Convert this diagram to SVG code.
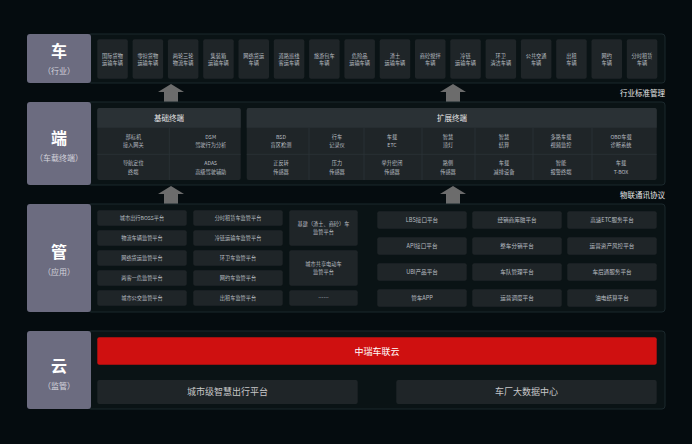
<svg xmlns="http://www.w3.org/2000/svg" width="692" height="444" viewBox="0 0 692 444">
<style>
text{font-family:"Noto Sans CJK SC","Noto Sans",sans-serif;text-anchor:middle}
.panel{fill:#0a1315;stroke:#1b282c;stroke-width:1}
.lab{fill:#6c6c80}
.big{fill:#ffffff;font-size:16px;font-weight:bold}
.sub{fill:#d4d4dc;font-size:8px}
.card{fill:#1f2528}
.ct{fill:#b9bec2;font-size:5.2px}
.mt{fill:#b9bec2;font-size:5.6px}
.hd{fill:#2a3135}
.ht{fill:#e6e6e6;font-size:7.5px}
.dv{stroke:#2b3337;stroke-width:0.8}
.arr{fill:#6c6c6c}
.side{fill:#e8e8e8;font-size:7.5px;text-anchor:end}
.bt{fill:#c8c8c8;font-size:9px}
</style>
<rect width="692" height="444" fill="#050c0f"/>

<g id="connectors">
  <polygon class="arr" points="171,84 184,92 178,92 178,108 164,108 164,92 158,92"/>
  <polygon class="arr" points="453,84 466,92 460,92 460,108 446,108 446,92 440,92"/>
  <polygon class="arr" points="171,186 184,194 178,194 178,204 164,204 164,194 158,194"/>
  <polygon class="arr" points="453,186 466,194 460,194 460,204 446,204 446,194 440,194"/>
  <polygon class="arr" points="212,365 226,365 226,372 233,372 219,380 205,372 212,372"/>
  <polygon class="arr" points="518,365 532,365 532,372 539,372 525,380 511,372 518,372"/>
</g>
<text class="side" x="665" y="96">行业标准管理</text>
<text class="side" x="665" y="198">物联通讯协议</text>

<!-- Row 1: 车 -->
<g id="row-che">
  <rect class="panel" x="88" y="34" width="577" height="49" rx="3"/>
  <rect class="lab" x="27" y="34" width="64" height="49" rx="3"/>
  <text class="big" x="59" y="57">车</text>
  <text class="sub" x="59" y="74">（行业）</text>
</g>
<g id="che-cards">
  <rect class="card" x="97.3" y="39.3" width="30.5" height="39.4" rx="2"/><text class="ct" x="112.5" y="57.5">国际货物</text><text class="ct" x="112.5" y="65">运输车辆</text>
  <rect class="card" x="132.6" y="39.3" width="30.5" height="39.4" rx="2"/><text class="ct" x="147.8" y="57.5">零担货物</text><text class="ct" x="147.8" y="65">运输车辆</text>
  <rect class="card" x="167.9" y="39.3" width="30.5" height="39.4" rx="2"/><text class="ct" x="183.1" y="57.5">两轮三轮</text><text class="ct" x="183.1" y="65">物流车辆</text>
  <rect class="card" x="203.2" y="39.3" width="30.5" height="39.4" rx="2"/><text class="ct" x="218.4" y="57.5">集装箱</text><text class="ct" x="218.4" y="65">运输车辆</text>
  <rect class="card" x="238.5" y="39.3" width="30.5" height="39.4" rx="2"/><text class="ct" x="253.7" y="57.5">网络货运</text><text class="ct" x="253.7" y="65">车辆</text>
  <rect class="card" x="273.8" y="39.3" width="30.5" height="39.4" rx="2"/><text class="ct" x="289" y="57.5">道路班线</text><text class="ct" x="289" y="65">客运车辆</text>
  <rect class="card" x="309.1" y="39.3" width="30.5" height="39.4" rx="2"/><text class="ct" x="324.3" y="57.5">旅游包车</text><text class="ct" x="324.3" y="65">车辆</text>
  <rect class="card" x="344.4" y="39.3" width="30.5" height="39.4" rx="2"/><text class="ct" x="359.6" y="57.5">危险品</text><text class="ct" x="359.6" y="65">运输车辆</text>
  <rect class="card" x="379.7" y="39.3" width="30.5" height="39.4" rx="2"/><text class="ct" x="394.9" y="57.5">渣土</text><text class="ct" x="394.9" y="65">运输车辆</text>
  <rect class="card" x="415" y="39.3" width="30.5" height="39.4" rx="2"/><text class="ct" x="430.2" y="57.5">商砼搅拌</text><text class="ct" x="430.2" y="65">车辆</text>
  <rect class="card" x="450.3" y="39.3" width="30.5" height="39.4" rx="2"/><text class="ct" x="465.5" y="57.5">冷链</text><text class="ct" x="465.5" y="65">运输车辆</text>
  <rect class="card" x="485.6" y="39.3" width="30.5" height="39.4" rx="2"/><text class="ct" x="500.8" y="57.5">环卫</text><text class="ct" x="500.8" y="65">清洁车辆</text>
  <rect class="card" x="520.9" y="39.3" width="30.5" height="39.4" rx="2"/><text class="ct" x="536.1" y="57.5">公共交通</text><text class="ct" x="536.1" y="65">车辆</text>
  <rect class="card" x="556.2" y="39.3" width="30.5" height="39.4" rx="2"/><text class="ct" x="571.4" y="57.5">出租</text><text class="ct" x="571.4" y="65">车辆</text>
  <rect class="card" x="591.5" y="39.3" width="30.5" height="39.4" rx="2"/><text class="ct" x="606.7" y="57.5">网约</text><text class="ct" x="606.7" y="65">车辆</text>
  <rect class="card" x="626.8" y="39.3" width="30.5" height="39.4" rx="2"/><text class="ct" x="642" y="57.5">分时租赁</text><text class="ct" x="642" y="65">车辆</text>
</g>

<!-- Row 2: 端 -->
<g id="row-duan">
  <rect class="panel" x="88" y="102" width="577" height="83" rx="3"/>
  <rect class="lab" x="27" y="102" width="64" height="83" rx="3"/>
  <text class="big" x="59" y="144">端</text>
  <text class="sub" x="59" y="161">（车载终端）</text>
</g>
<g id="basic-terminal">
  <rect class="card" x="97.3" y="108" width="143.4" height="72" rx="2"/>
  <path class="hd" d="M99.3,108h139.4a2,2 0 0 1 2,2v17.7h-143.4v-17.7a2,2 0 0 1 2,-2z"/>
  <text class="ht" x="169" y="120.5">基础终端</text>
  <line class="dv" x1="97.3" y1="154.3" x2="240.7" y2="154.3"/>
  <line class="dv" x1="169.3" y1="127.7" x2="169.3" y2="180"/>
  <text class="ct" x="133.3" y="138.5">部标机</text><text class="ct" x="133.3" y="147">接入网关</text>
  <text class="ct" x="210.7" y="138.5">DSM</text><text class="ct" x="210.7" y="147">驾驶行为分析</text>
  <text class="ct" x="133.3" y="165">导航定位</text><text class="ct" x="133.3" y="173.5">终端</text>
  <text class="ct" x="210.7" y="165">ADAS</text><text class="ct" x="210.7" y="173.5">高级驾驶辅助</text>
</g>
<g id="ext-terminal">
  <rect class="card" x="246.7" y="108" width="410" height="72" rx="2"/>
  <path class="hd" d="M248.7,108h406a2,2 0 0 1 2,2v17.7h-410v-17.7a2,2 0 0 1 2,-2z"/>
  <text class="ht" x="452" y="120.5">扩展终端</text>
  <line class="dv" x1="246.7" y1="154.3" x2="656.7" y2="154.3"/>
  <line class="dv" x1="309" y1="127.7" x2="309" y2="180"/>
  <line class="dv" x1="364" y1="127.7" x2="364" y2="180"/>
  <line class="dv" x1="422" y1="127.7" x2="422" y2="180"/>
  <line class="dv" x1="475" y1="127.7" x2="475" y2="180"/>
  <line class="dv" x1="533" y1="127.7" x2="533" y2="180"/>
  <line class="dv" x1="592" y1="127.7" x2="592" y2="180"/>
  <text class="ct" x="281" y="138.5">BSD</text><text class="ct" x="281" y="147">盲区检测</text>
  <text class="ct" x="337" y="138.5">行车</text><text class="ct" x="337" y="147">记录仪</text>
  <text class="ct" x="392" y="138.5">车载</text><text class="ct" x="392" y="147">ETC</text>
  <text class="ct" x="448" y="138.5">智慧</text><text class="ct" x="448" y="147">顶灯</text>
  <text class="ct" x="504" y="138.5">智慧</text><text class="ct" x="504" y="147">结算</text>
  <text class="ct" x="561" y="138.5">多路车载</text><text class="ct" x="561" y="147">视频监控</text>
  <text class="ct" x="621" y="138.5">OBD车载</text><text class="ct" x="621" y="147">诊断系统</text>
  <text class="ct" x="281" y="165">正反转</text><text class="ct" x="281" y="173.5">传感器</text>
  <text class="ct" x="337" y="165">压力</text><text class="ct" x="337" y="173.5">传感器</text>
  <text class="ct" x="392" y="165">举升密闭</text><text class="ct" x="392" y="173.5">传感器</text>
  <text class="ct" x="448" y="165">路侧</text><text class="ct" x="448" y="173.5">传感器</text>
  <text class="ct" x="504" y="165">车载</text><text class="ct" x="504" y="173.5">减排设备</text>
  <text class="ct" x="561" y="165">智能</text><text class="ct" x="561" y="173.5">报警终端</text>
  <text class="ct" x="621" y="165">车载</text><text class="ct" x="621" y="173.5">T-BOX</text>
</g>

<!-- Row 3: 管 -->
<g id="row-guan">
  <rect class="panel" x="88" y="204" width="577" height="108" rx="3"/>
  <rect class="lab" x="27" y="204" width="64" height="108" rx="3"/>
  <text class="big" x="59" y="258">管</text>
  <text class="sub" x="59" y="275">（应用）</text>
</g>
<g id="guan-left">
  <rect class="card" x="97.3" y="210.3" width="89.4" height="15.4" rx="2"/><text class="ct" x="142" y="220">城市出行BOSS平台</text>
  <rect class="card" x="97.3" y="230.3" width="89.4" height="15.4" rx="2"/><text class="ct" x="142" y="240">物流车辆监管平台</text>
  <rect class="card" x="97.3" y="250.3" width="89.4" height="15.4" rx="2"/><text class="ct" x="142" y="260">网络货运监管平台</text>
  <rect class="card" x="97.3" y="270.3" width="89.4" height="15.4" rx="2"/><text class="ct" x="142" y="280">两客一危监管平台</text>
  <rect class="card" x="97.3" y="290.3" width="89.4" height="15.4" rx="2"/><text class="ct" x="142" y="300">城市公交监管平台</text>
  <rect class="card" x="193.3" y="210.3" width="89.4" height="15.4" rx="2"/><text class="ct" x="238" y="220">分时租赁车监管平台</text>
  <rect class="card" x="193.3" y="230.3" width="89.4" height="15.4" rx="2"/><text class="ct" x="238" y="240">冷链运输车监管平台</text>
  <rect class="card" x="193.3" y="250.3" width="89.4" height="15.4" rx="2"/><text class="ct" x="238" y="260">环卫车监管平台</text>
  <rect class="card" x="193.3" y="270.3" width="89.4" height="15.4" rx="2"/><text class="ct" x="238" y="280">网约车监管平台</text>
  <rect class="card" x="193.3" y="290.3" width="89.4" height="15.4" rx="2"/><text class="ct" x="238" y="300">出租车监管平台</text>
  <rect class="card" x="289.3" y="210.3" width="68.4" height="35.4" rx="2"/><text class="ct" x="323.5" y="226">基建（渣土、商砼）车</text><text class="ct" x="323.5" y="234">监管平台</text>
  <rect class="card" x="289.3" y="250.3" width="68.4" height="35.4" rx="2"/><text class="ct" x="323.5" y="266">城市共享电动车</text><text class="ct" x="323.5" y="274">监管平台</text>
  <rect class="card" x="289.3" y="290.3" width="68.4" height="15.4" rx="2"/><text class="ct" x="323.5" y="300">……</text>
</g>
<g id="guan-right">
  <rect class="card" x="377.3" y="211.3" width="89.4" height="17.4" rx="2"/><text class="mt" x="422" y="221.5">LBS接口平台</text>
  <rect class="card" x="472.3" y="211.3" width="89.4" height="17.4" rx="2"/><text class="mt" x="517" y="221.5">经销商库融平台</text>
  <rect class="card" x="567.3" y="211.3" width="89.4" height="17.4" rx="2"/><text class="mt" x="612" y="221.5">高速ETC服务平台</text>
  <rect class="card" x="377.3" y="237.3" width="89.4" height="17.4" rx="2"/><text class="mt" x="422" y="247.5">API接口平台</text>
  <rect class="card" x="472.3" y="237.3" width="89.4" height="17.4" rx="2"/><text class="mt" x="517" y="247.5">整车分销平台</text>
  <rect class="card" x="567.3" y="237.3" width="89.4" height="17.4" rx="2"/><text class="mt" x="612" y="247.5">运营资产风控平台</text>
  <rect class="card" x="377.3" y="263.3" width="89.4" height="17.4" rx="2"/><text class="mt" x="422" y="273.5">UBI产品平台</text>
  <rect class="card" x="472.3" y="263.3" width="89.4" height="17.4" rx="2"/><text class="mt" x="517" y="273.5">车队管理平台</text>
  <rect class="card" x="567.3" y="263.3" width="89.4" height="17.4" rx="2"/><text class="mt" x="612" y="273.5">车后通服务平台</text>
  <rect class="card" x="377.3" y="289.3" width="89.4" height="17.4" rx="2"/><text class="mt" x="422" y="299.5">管车APP</text>
  <rect class="card" x="472.3" y="289.3" width="89.4" height="17.4" rx="2"/><text class="mt" x="517" y="299.5">运营调度平台</text>
  <rect class="card" x="567.3" y="289.3" width="89.4" height="17.4" rx="2"/><text class="mt" x="612" y="299.5">油电结算平台</text>
</g>

<!-- Row 4: 云 -->
<g id="row-yun">
  <rect class="panel" x="88" y="331" width="577" height="78" rx="3"/>
  <rect class="lab" x="27" y="331" width="64" height="78" rx="3"/>
  <text class="big" x="59" y="372">云</text>
  <text class="sub" x="59" y="389">（监管）</text>
</g>
<g id="zhongrui-cloud">
  <rect x="97.3" y="337.3" width="559.4" height="27.4" rx="2" fill="#cf1010"/>
  <text x="377" y="354.5" fill="#ffffff" font-size="9px">中瑞车联云</text>
</g>
<g id="city-platform">
  <rect class="card" x="97.3" y="380" width="260.4" height="24" rx="2"/>
  <text class="bt" x="227.5" y="395">城市级智慧出行平台</text>
</g>
<g id="oem-data">
  <rect class="card" x="396.3" y="380" width="260.4" height="24" rx="2"/>
  <text class="bt" x="526.5" y="395">车厂大数据中心</text>
</g>
</svg>
